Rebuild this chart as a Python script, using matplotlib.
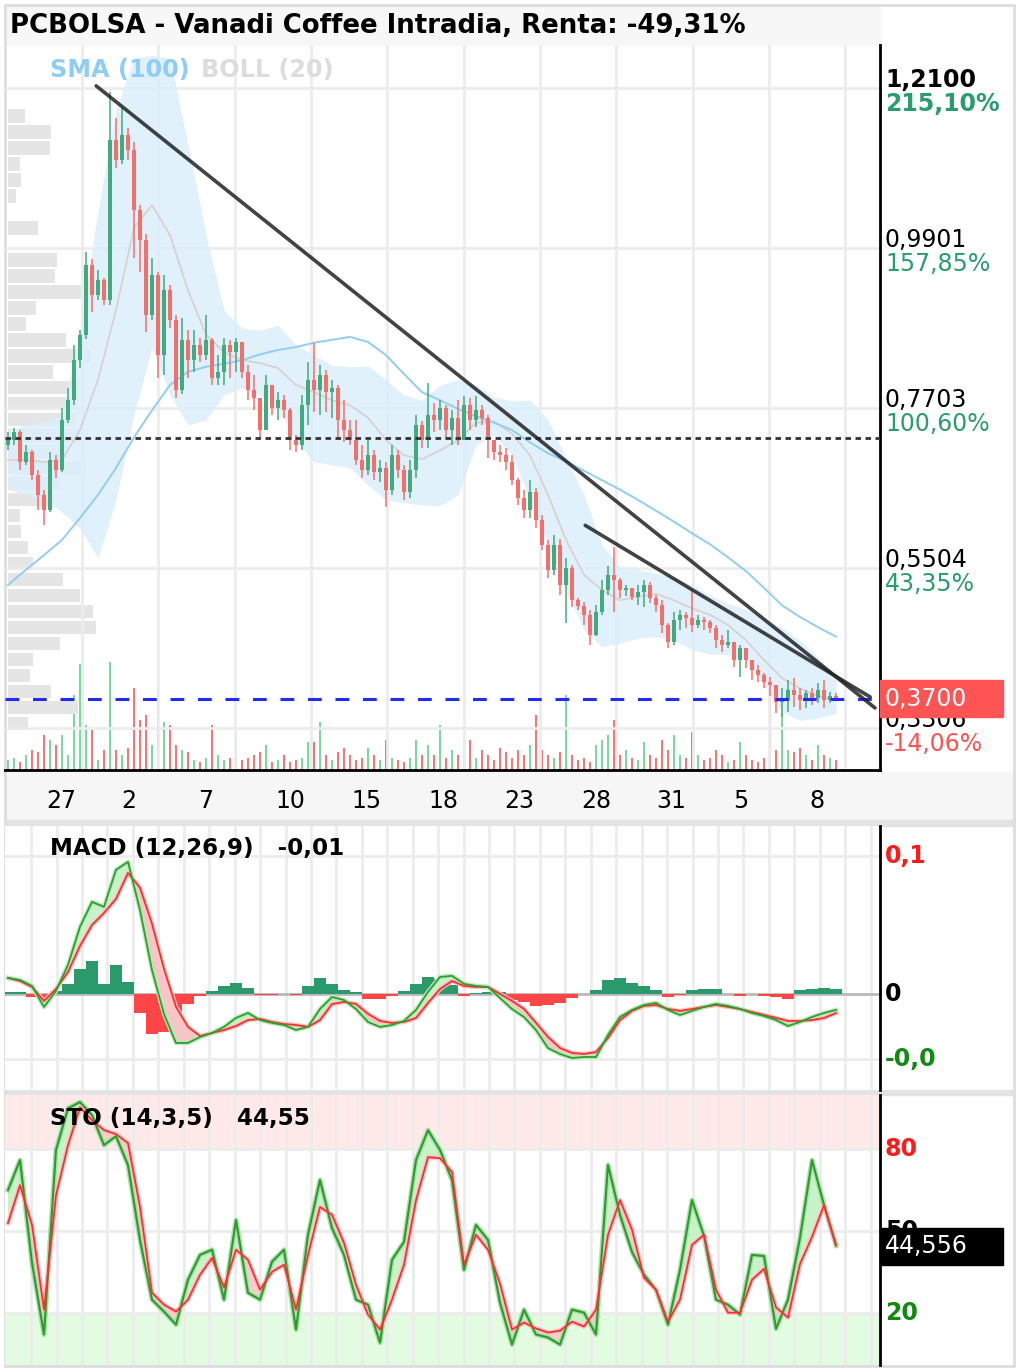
import numpy as np
import matplotlib
matplotlib.use("Agg")
import matplotlib.pyplot as plt
from matplotlib.patches import Rectangle
from matplotlib.transforms import blended_transform_factory

plt.rcParams['font.family'] = ['DejaVu Sans']

# ---------------- values ----------------
# one candle per slot, open = previous close
first_open = 0.719
close = [0.726, 0.737, 0.696, 0.710, 0.678, 0.651, 0.630, 0.699, 0.685, 0.754,
         0.781, 0.836, 0.871, 0.967, 0.925, 0.946, 0.919, 1.139, 1.111, 1.145,
         1.125, 1.042, 1.001, 0.898, 0.953, 0.843, 0.932, 0.891, 0.795, 0.864,
         0.836, 0.857, 0.843, 0.864, 0.811, 0.820, 0.857, 0.847, 0.861, 0.820,
         0.795, 0.784, 0.740, 0.802, 0.770, 0.781, 0.767, 0.726, 0.719, 0.774,
         0.809, 0.795, 0.816, 0.792, 0.798, 0.754, 0.740, 0.726, 0.699, 0.685,
         0.706, 0.682, 0.688, 0.658, 0.706, 0.685, 0.655, 0.685, 0.747, 0.726,
         0.761, 0.754, 0.770, 0.740, 0.757, 0.726, 0.774, 0.754, 0.767, 0.757,
         0.726, 0.710, 0.706, 0.696, 0.671, 0.647, 0.630, 0.655, 0.616, 0.582,
         0.548, 0.582, 0.527, 0.550, 0.506, 0.498, 0.486, 0.458, 0.490, 0.520,
         0.541, 0.534, 0.520, 0.523, 0.511, 0.517, 0.527, 0.509, 0.500, 0.472,
         0.449, 0.479, 0.486, 0.482, 0.472, 0.479, 0.476, 0.468, 0.451, 0.445,
         0.449, 0.424, 0.440, 0.424, 0.410, 0.403, 0.394, 0.389, 0.366, 0.372,
         0.383, 0.376, 0.369, 0.379, 0.372, 0.383, 0.369, 0.374, 0.370]
high = [0.737, 0.743, 0.740, 0.719, 0.713, 0.685, 0.658, 0.710, 0.706, 0.770,
        0.798, 0.857, 0.877, 0.985, 0.975, 0.960, 0.949, 1.205, 1.169, 1.183,
        1.155, 1.136, 1.049, 1.010, 0.976, 0.957, 0.953, 0.940, 0.898, 0.894,
        0.877, 0.877, 0.866, 0.898, 0.866, 0.843, 0.866, 0.864, 0.866, 0.861,
        0.829, 0.816, 0.784, 0.816, 0.802, 0.792, 0.788, 0.770, 0.733, 0.788,
        0.833, 0.860, 0.829, 0.822, 0.809, 0.802, 0.781, 0.754, 0.754, 0.719,
        0.726, 0.712, 0.699, 0.696, 0.719, 0.712, 0.692, 0.699, 0.761, 0.752,
        0.805, 0.777, 0.781, 0.774, 0.767, 0.781, 0.787, 0.784, 0.787, 0.774,
        0.761, 0.726, 0.719, 0.715, 0.706, 0.674, 0.658, 0.671, 0.660, 0.623,
        0.589, 0.596, 0.590, 0.564, 0.554, 0.509, 0.504, 0.493, 0.500, 0.534,
        0.553, 0.579, 0.537, 0.527, 0.523, 0.527, 0.534, 0.531, 0.513, 0.506,
        0.475, 0.490, 0.493, 0.490, 0.520, 0.486, 0.483, 0.479, 0.472, 0.458,
        0.465, 0.449, 0.445, 0.440, 0.424, 0.417, 0.406, 0.400, 0.390, 0.385,
        0.396, 0.399, 0.385, 0.383, 0.385, 0.392, 0.396, 0.380, 0.378]
low = [0.713, 0.719, 0.685, 0.692, 0.671, 0.630, 0.609, 0.627, 0.674, 0.682,
       0.750, 0.774, 0.825, 0.865, 0.902, 0.919, 0.912, 0.912, 1.100, 1.105,
       1.111, 0.976, 0.957, 0.875, 0.891, 0.811, 0.816, 0.880, 0.784, 0.790,
       0.811, 0.820, 0.833, 0.836, 0.802, 0.802, 0.802, 0.811, 0.820, 0.811,
       0.781, 0.767, 0.729, 0.740, 0.761, 0.754, 0.757, 0.713, 0.710, 0.713,
       0.747, 0.765, 0.761, 0.765, 0.757, 0.726, 0.724, 0.719, 0.692, 0.674,
       0.678, 0.671, 0.669, 0.634, 0.651, 0.674, 0.644, 0.647, 0.674, 0.715,
       0.715, 0.737, 0.740, 0.729, 0.719, 0.719, 0.726, 0.740, 0.744, 0.747,
       0.702, 0.699, 0.696, 0.685, 0.664, 0.637, 0.619, 0.619, 0.605, 0.575,
       0.537, 0.541, 0.513, 0.475, 0.497, 0.493, 0.472, 0.445, 0.457, 0.486,
       0.513, 0.490, 0.509, 0.512, 0.506, 0.500, 0.497, 0.502, 0.490, 0.461,
       0.440, 0.445, 0.465, 0.468, 0.462, 0.468, 0.465, 0.461, 0.440, 0.435,
       0.440, 0.414, 0.401, 0.413, 0.396, 0.394, 0.386, 0.374, 0.351, 0.346,
       0.352, 0.359, 0.355, 0.358, 0.362, 0.365, 0.358, 0.365, 0.367]
volume = [10, 12, 8, 15, 20, 18, 35, 30, 25, 35,
          15, 75, 106, 45, 40, 10, 20, 108, 20, 15,
          22, 82, 50, 55, 25, 82, 48, 45, 25, 20,
          18, 10, 8, 12, 45, 15, 10, 12, 35, 10,
          12, 15, 18, 25, 8, 10, 15, 8, 10, 12,
          28, 28, 48, 15, 10, 18, 22, 15, 10, 12,
          22, 15, 10, 30, 12, 10, 8, 12, 30, 15,
          25, 15, 45, 12, 20, 15, 18, 30, 12, 20,
          15, 10, 22, 18, 12, 20, 15, 25, 55, 20,
          15, 12, 18, 75, 15, 10, 12, 8, 25, 30,
          35, 50, 15, 20, 12, 10, 28, 15, 12, 30,
          20, 35, 15, 12, 38, 15, 10, 12, 20, 15,
          8, 10, 28, 15, 10, 8, 12, 75, 20, 57,
          20, 18, 22, 15, 10, 25, 15, 12, 10]

# volume at price (grey bars on the left), top bin first
profile_top = 1.1716
profile_step = 0.02199
profile_vol = [17, 43, 42, 12, 13, 8, 0, 30, 0, 49, 47, 73, 28, 18, 58, 82, 45, 70, 70,
               68, 72, 60, 78, 52, 40, 12, 13, 20, 25, 55, 72, 85, 88, 52, 25, 22, 43, 70, 20]

# BOLL (20) and SMA (100): one value every 3 candles
boll_upper = [0.740, 0.747, 0.751, 0.761, 0.877, 1.042, 1.180, 1.251, 1.255, 1.251,
              1.132, 1.008, 0.905, 0.880, 0.877, 0.884, 0.857, 0.843, 0.829, 0.827,
              0.828, 0.809, 0.788, 0.781, 0.802, 0.809, 0.802, 0.785, 0.780, 0.781,
              0.754, 0.702, 0.651, 0.582, 0.552, 0.548, 0.543, 0.538, 0.527, 0.513,
              0.502, 0.493, 0.482, 0.468, 0.451, 0.427, 0.399]
boll_mid = [0.699, 0.699, 0.696, 0.699, 0.740, 0.809, 0.905, 1.018, 1.049, 1.008,
            0.932, 0.871, 0.847, 0.836, 0.832, 0.825, 0.802, 0.792, 0.781, 0.774,
            0.757, 0.726, 0.705, 0.700, 0.712, 0.726, 0.750, 0.752, 0.735, 0.705,
            0.651, 0.589, 0.541, 0.520, 0.506, 0.511, 0.515, 0.506, 0.495, 0.486,
            0.472, 0.451, 0.424, 0.399, 0.385, 0.374, 0.369]
boll_lower = [0.658, 0.651, 0.644, 0.627, 0.605, 0.564, 0.644, 0.761, 0.853, 0.788,
              0.747, 0.754, 0.788, 0.798, 0.788, 0.770, 0.726, 0.696, 0.692, 0.688,
              0.664, 0.644, 0.640, 0.637, 0.636, 0.651, 0.719, 0.733, 0.706, 0.644,
              0.582, 0.520, 0.465, 0.442, 0.447, 0.454, 0.456, 0.451, 0.438, 0.432,
              0.431, 0.424, 0.390, 0.352, 0.341, 0.344, 0.351]
sma100 = [0.527, 0.548, 0.568, 0.589, 0.619, 0.651, 0.688, 0.730, 0.767, 0.802,
          0.820, 0.827, 0.831, 0.836, 0.844, 0.850, 0.854, 0.860, 0.864, 0.868,
          0.861, 0.843, 0.817, 0.792, 0.781, 0.769, 0.759, 0.750, 0.740, 0.723,
          0.708, 0.697, 0.684, 0.671, 0.658, 0.644, 0.629, 0.614, 0.598, 0.583,
          0.565, 0.546, 0.523, 0.499, 0.483, 0.469, 0.456]

# MACD (12,26,9) and STO (14,3,5): one value every 2 candles
macd = [0.0116, 0.0101, 0.0058, -0.0094, 0.0022, 0.0210, 0.0486, 0.0667, 0.0631, 0.0899,
        0.0957, 0.0609, 0.0174, -0.0145, -0.0355, -0.0355, -0.0312, -0.0283, -0.0239, -0.0174,
        -0.0138, -0.0189, -0.0210, -0.0225, -0.0261, -0.0239, -0.0109, -0.0022, -0.0044, -0.0109,
        -0.0203, -0.0239, -0.0225, -0.0196, -0.0116, 0.0015, 0.0123, 0.0131, 0.0073, 0.0058,
        0.0051, -0.0029, -0.0109, -0.0167, -0.0261, -0.0392, -0.0435, -0.0464, -0.0457, -0.0457,
        -0.0297, -0.0167, -0.0116, -0.0080, -0.0065, -0.0116, -0.0152, -0.0123, -0.0094, -0.0073,
        -0.0087, -0.0109, -0.0138, -0.0160, -0.0189, -0.0232, -0.0203, -0.0167, -0.0138, -0.0116]
macd_signal = [0.0116, 0.0094, 0.0051, -0.0051, 0.0036, 0.0160, 0.0348, 0.0500, 0.0587, 0.0689,
               0.0877, 0.0769, 0.0508, 0.0181, -0.0094, -0.0239, -0.0305, -0.0283, -0.0261, -0.0232,
               -0.0189, -0.0181, -0.0203, -0.0218, -0.0225, -0.0239, -0.0189, -0.0073, -0.0058, -0.0073,
               -0.0145, -0.0196, -0.0210, -0.0203, -0.0174, -0.0065, 0.0036, 0.0094, 0.0058, 0.0051,
               0.0051, 0.0000, -0.0051, -0.0109, -0.0210, -0.0312, -0.0392, -0.0428, -0.0435, -0.0421,
               -0.0319, -0.0189, -0.0123, -0.0087, -0.0080, -0.0109, -0.0123, -0.0109, -0.0094, -0.0080,
               -0.0094, -0.0109, -0.0131, -0.0152, -0.0174, -0.0196, -0.0196, -0.0189, -0.0174, -0.0138]
macd_hist = [0.0015, 0.0015, -0.0022, -0.0036, 0.0022, 0.0073, 0.0181, 0.0239, 0.0073, 0.0210,
             0.0087, -0.0138, -0.0290, -0.0276, -0.0145, -0.0073, -0.0015, 0.0022, 0.0058, 0.0080,
             0.0044, -0.0007, -0.0007, 0.0000, -0.0007, 0.0058, 0.0116, 0.0073, 0.0029, 0.0015,
             -0.0036, -0.0036, -0.0015, 0.0022, 0.0073, 0.0123, 0.0109, 0.0065, -0.0015, 0.0007,
             0.0015, 0.0015, -0.0044, -0.0058, -0.0087, -0.0080, -0.0065, -0.0029, 0.0000, 0.0029,
             0.0102, 0.0116, 0.0080, 0.0058, 0.0029, -0.0022, -0.0007, 0.0029, 0.0036, 0.0036,
             0.0000, -0.0015, 0.0000, -0.0015, -0.0022, -0.0036, 0.0029, 0.0036, 0.0044, 0.0036]
sto_k = [65.0, 76.0, 38.3, 12.0, 79.7, 95.0, 97.3, 92.5, 81.5, 84.8,
         74.2, 46.7, 24.8, 20.4, 15.6, 32.1, 41.2, 43.1, 24.8, 54.0,
         27.3, 24.8, 38.7, 43.1, 13.8, 48.6, 68.7, 51.1, 41.2, 24.8,
         22.9, 9.0, 39.4, 46.0, 76.0, 87.0, 79.7, 68.7, 35.7, 52.2,
         46.7, 23.7, 8.3, 21.1, 12.0, 10.9, 8.3, 21.1, 20.0, 12.0,
         74.2, 55.9, 42.3, 33.9, 28.4, 15.6, 35.7, 61.3, 48.2, 24.8,
         22.9, 19.3, 41.2, 40.8, 14.1, 24.8, 47.5, 76.0, 59.5, 44.6]
sto_d = [52.9, 66.8, 52.2, 21.1, 63.1, 81.5, 95.4, 90.6, 87.0, 85.5,
         82.2, 58.8, 27.3, 22.9, 20.4, 24.8, 33.9, 40.1, 29.2, 43.1,
         39.4, 28.4, 35.0, 37.6, 21.1, 41.2, 58.8, 55.9, 45.6, 30.2,
         19.3, 13.8, 24.8, 37.6, 61.3, 77.1, 76.7, 71.6, 37.6, 48.6,
         43.1, 30.6, 13.8, 16.4, 14.2, 12.7, 13.4, 16.7, 14.9, 21.1,
         48.6, 61.3, 50.4, 32.8, 28.4, 16.7, 24.8, 44.9, 48.6, 28.4,
         20.0, 20.0, 32.1, 36.1, 21.9, 18.2, 37.9, 47.8, 59.5, 44.9]

date_labels = ['27', '2', '7', '10', '15', '18', '23', '28', '31', '5', '8']
date_pos = [8.8, 20.2, 33.0, 47.0, 59.8, 72.5, 85.2, 98.0, 110.5, 122.2, 134.8]

price_levels = [1.2100, 0.9901, 0.7703, 0.5504, 0.3306]
price_text = ['1,2100', '0,9901', '0,7703', '0,5504', '0,3306']
pct_text = ['215,10%', '157,85%', '100,60%', '43,35%', '-14,06%']
last_price = 0.3700
ref_level = 0.729
trend_1 = ([14.7, 144.5], [1.213, 0.358])
trend_2 = ([96.2, 143.7], [0.609, 0.373])

# ---------------- colours ----------------
GREEN = '#43a97f'
RED = '#f2706c'
VOL_GREEN = '#7ad8a0'
VOL_RED = '#f47777'
GRID = '#ececec'
PCT_GREEN = '#2a9d6e'
PCT_RED = '#ff5252'

W, H = 1019, 1370
fig = plt.figure(figsize=(W / 100, H / 100), dpi=100)


def px_axes(x0, y0, x1, y1):
    return fig.add_axes([x0 / W, 1 - y1 / H, (x1 - x0) / W, (y1 - y0) / H])


def fig_rect(x0, y0, x1, y1, color, z=-5, **kw):
    fig.patches.append(Rectangle((x0 / W, 1 - y1 / H), (x1 - x0) / W, (y1 - y0) / H,
                                 transform=fig.transFigure, color=color, zorder=z, **kw))


# background strips
fig_rect(5, 5, 880, 45, '#f7f7f7')
fig_rect(5, 772, 1014, 820, '#f6f6f6')
fig_rect(5, 820, 1014, 826, '#e3e3e3')
fig_rect(5, 1090, 1014, 1095, '#e3e3e3')
fig.patches.append(Rectangle((5 / W, 4 / H), 1009 / W, 1361 / H, transform=fig.transFigure,
                             fill=False, edgecolor='#dddddd', lw=2, zorder=-4))

N = len(close)
t = np.arange(N)
c = np.array(close)
o = np.r_[first_open, c[:-1]]
hi = np.maximum(np.array(high), np.maximum(o, c))
lo = np.minimum(np.array(low), np.minimum(o, c))
up = c >= o
t3 = np.arange(0, N, 3)
t2 = np.arange(0, N, 2)
XLIM = (-0.5, 145.33)
main_grid_x = np.arange(12.33, XLIM[1], 12.72)
sub_grid_x = np.arange(12.33 - 2 * 4.24, XLIM[1], 4.24)
PRICE_LIM = (0.2727, 1.2692)

# ---------------- main panel ----------------
ax_v = px_axes(5, 45, 880, 770)
ax_v.set_zorder(0)
ax_v.bar(t, volume, width=0.45, color=np.where(up, VOL_GREEN, VOL_RED))
ax_v.set_xlim(XLIM)
ax_v.set_ylim(0, 725)
ax_v.axis('off')

ax_p = px_axes(5, 45, 880, 770)
ax_p.set_zorder(1)
prof_price = profile_top - profile_step * np.arange(len(profile_vol))
ax_p.barh(prof_price, profile_vol, height=0.0179, left=3, color='#e5e5e5')
ax_p.set_xlim(0, 875)
ax_p.set_ylim(PRICE_LIM)
ax_p.axis('off')

ax = px_axes(5, 45, 880, 770)
ax.set_zorder(2)
ax.patch.set_visible(False)
ax.set_xlim(XLIM)
ax.set_ylim(PRICE_LIM)
for lv in price_levels:
    ax.axhline(lv, color=GRID, lw=2, zorder=0)
for gx in main_grid_x:
    ax.axvline(gx, color=GRID, lw=2, zorder=0)

ax.fill_between(t3, boll_lower, boll_upper, color='#dbeffc', alpha=0.85, lw=0, zorder=1)
ax.plot(t3, boll_mid, color='#d8d0cb', lw=1.2, zorder=1.5)
ax.plot(t3, sma100, color='#92cdf4', lw=1.4, zorder=1.5)

cols = np.where(up, GREEN, RED)
ax.vlines(t, lo, hi, colors=cols, lw=1.1, zorder=3)
ax.bar(t, np.maximum(np.abs(c - o), 0.002), bottom=np.minimum(o, c), width=0.55,
       color=cols, zorder=3)

ax.axhline(ref_level, color='#333333', lw=2, ls=(0, (2, 1.6)), zorder=4)
ax.axhline(last_price, color='#1f2bff', lw=2.2, ls=(0, (4.5, 4.5)), zorder=4)
ax.plot(*trend_1, color='#222222', lw=2.6, alpha=0.85, zorder=5, solid_capstyle='round')
ax.plot(*trend_2, color='#222222', lw=2.6, alpha=0.85, zorder=5, solid_capstyle='round')

for s in ['top', 'left']:
    ax.spines[s].set_visible(False)
for s in ['bottom', 'right']:
    ax.spines[s].set_color('black')
    ax.spines[s].set_linewidth(2)
ax.tick_params(axis='y', left=False, right=False, labelleft=False)
ax.set_xticks(date_pos, date_labels)
ax.tick_params(axis='x', length=0, pad=14, labelsize=17)


def right_label(axis, y, text, color, dy_px=0, bold=False, size=17, z=5):
    axis.annotate(text, xy=(1, y), xycoords=('axes fraction', 'data'),
                  xytext=(3.6, -dy_px * 0.72), textcoords='offset points',
                  ha='left', va='center', color=color, fontsize=size,
                  fontweight='bold' if bold else 'normal', annotation_clip=False, zorder=z)


for k, (lv, pt, pc) in enumerate(zip(price_levels, price_text, pct_text)):
    right_label(ax, lv, pt, 'black', dy_px=-8, bold=(k == 0))
    right_label(ax, lv, pc, PCT_RED if pc.startswith('-') else PCT_GREEN, dy_px=16, bold=(k == 0))

tr = blended_transform_factory(ax.transAxes, ax.transData)
ax.add_patch(Rectangle((1.0, 0.3455), 123 / 875, 0.0509, transform=tr, color='#ff5454',
                       clip_on=False, zorder=10))
right_label(ax, last_price, '0,3700', 'white', z=11)

fig.text(10 / W, 1 - 26 / H, 'PCBOLSA - Vanadi Coffee Intradia, Renta: -49,31%',
         fontsize=18.7, fontweight='bold', va='center', ha='left')
fig.text(50 / W, 1 - 70 / H, 'SMA (100)', color='#8ecdf5', fontsize=17.2,
         fontweight='bold', va='center', ha='left')
fig.text(201 / W, 1 - 70 / H, 'BOLL (20)', color='#dcdcdc', fontsize=17.2,
         fontweight='bold', va='center', ha='left')

# ---------------- MACD panel ----------------
ax_m = px_axes(5, 826, 880, 1090)
ax_m.set_xlim(XLIM)
ax_m.set_ylim(-0.0696, 0.1217)
for gx in sub_grid_x:
    ax_m.axvline(gx, color=GRID, lw=2, zorder=0)
for lv in [0.1, -0.047]:
    ax_m.axhline(lv, color=GRID, lw=2, zorder=0)
ax_m.axhline(0, color='#b9b9b9', lw=2, zorder=0.5)
mh = np.array(macd_hist)
ax_m.bar(t2, mh, width=2.0, color=np.where(mh >= 0, '#2a9a6c', '#ff4646'), zorder=1)
m = np.array(macd)
sg = np.array(macd_signal)
ax_m.fill_between(t2, m, sg, where=m >= sg, interpolate=True, color='#c8f2c8', lw=0, zorder=2)
ax_m.fill_between(t2, m, sg, where=m < sg, interpolate=True, color='#f6c6c6', lw=0, zorder=2)
ax_m.plot(t2, sg, color='#f9c4c4', lw=3.2, zorder=2.5)
ax_m.plot(t2, sg, color='#ff2e2e', lw=1.3, zorder=3)
ax_m.plot(t2, m, color='#bde8bd', lw=3.2, zorder=2.6)
ax_m.plot(t2, m, color='#2ca02c', lw=1.3, zorder=3.1)
for s in ['top', 'left', 'bottom']:
    ax_m.spines[s].set_visible(False)
ax_m.spines['right'].set_color('black')
ax_m.spines['right'].set_linewidth(2)
ax_m.set_xticks([])
ax_m.set_yticks([])
right_label(ax_m, 0.1, '0,1', '#ff1a1a', bold=True)
right_label(ax_m, 0.0, '0', 'black', bold=True)
right_label(ax_m, -0.047, '-0,0', '#128a12', bold=True)
fig.text(50 / W, 1 - 848 / H, 'MACD (12,26,9)   -0,01', fontsize=16.6,
         fontweight='bold', va='center', ha='left')

# ---------------- STO panel ----------------
ax_s = px_axes(5, 1095, 880, 1365)
ax_s.set_xlim(XLIM)
ax_s.set_ylim(0.8, 99.9)
ax_s.axhspan(80, 100, color='#ffe9e9', lw=0, zorder=0)
ax_s.axhspan(0, 20, color='#e3fbe0', lw=0, zorder=0)
for gx in sub_grid_x:
    ax_s.axvline(gx, color=GRID, lw=2, zorder=0.5)
for lv in [20, 50, 80]:
    ax_s.axhline(lv, color=GRID, lw=2, zorder=0.5)
k = np.array(sto_k)
d = np.array(sto_d)
ax_s.fill_between(t2, k, d, where=k >= d, interpolate=True, color='#c8f2c8', lw=0, zorder=1)
ax_s.fill_between(t2, k, d, where=k < d, interpolate=True, color='#f7cccc', lw=0, zorder=1)
ax_s.plot(t2, k, color='#a9dfa9', lw=3.6, zorder=2)
ax_s.plot(t2, k, color='#2c9a2c', lw=1.5, zorder=2.2)
ax_s.plot(t2, d, color='#f9c4c4', lw=3.2, zorder=2.1)
ax_s.plot(t2, d, color='#ff2e2e', lw=1.3, zorder=2.3)
for s in ['top', 'left', 'bottom']:
    ax_s.spines[s].set_visible(False)
ax_s.spines['right'].set_color('black')
ax_s.spines['right'].set_linewidth(2)
ax_s.set_xticks([])
ax_s.set_yticks([])
right_label(ax_s, 80, '80', '#ff1a1a', bold=True)
right_label(ax_s, 50, '50', 'black', bold=True)
right_label(ax_s, 20, '20', '#128a12', bold=True)
trs = blended_transform_factory(ax_s.transAxes, ax_s.transData)
ax_s.add_patch(Rectangle((1.0, 37.6), 123 / 875, 13.5, transform=trs, color='black',
                         clip_on=False, zorder=10))
right_label(ax_s, 44.35, '44,556', 'white', z=11)
fig.text(50 / W, 1 - 1119 / H, 'STO (14,3,5)   44,55', fontsize=16.6,
         fontweight='bold', va='center', ha='left')

fig.savefig('out.png', dpi=100, facecolor='white')
